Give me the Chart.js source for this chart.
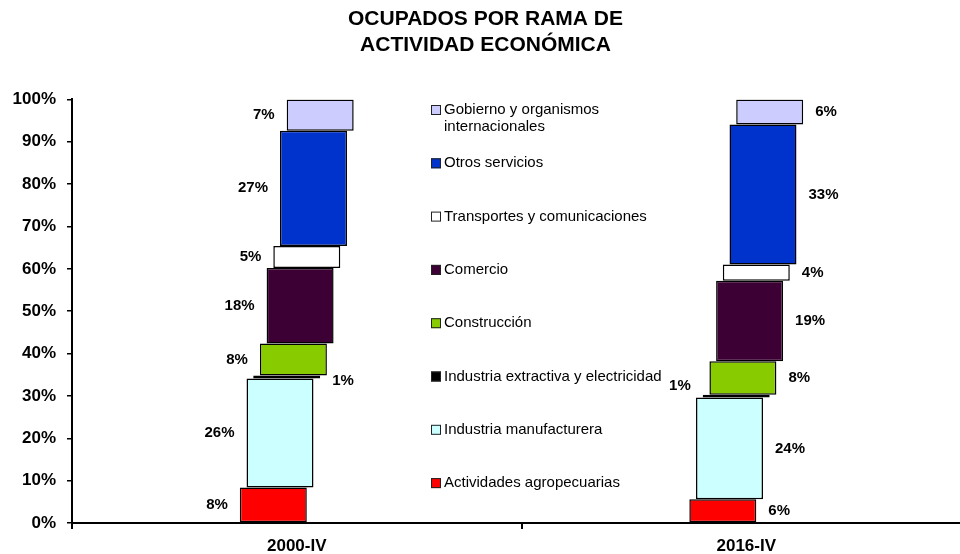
<!DOCTYPE html>
<html>
<head>
<meta charset="utf-8">
<script src="https://cdn.jsdelivr.net/npm/chart.js@4/dist/chart.umd.min.js"></script>
<style>
  body { margin: 0; background: #fff; }
  #wrap { width: 960px; height: 554px; overflow: hidden; }
</style>
</head>
<body>
<div id="wrap"><canvas id="ramas" width="994" height="554"></canvas></div>
<script>
// Ocupados por rama de actividad económica (% del total)
const periods = ['2000-IV', '2016-IV'];

const seriesNames = [
  'Actividades agropecuarias',
  'Industria manufacturera',
  'Industria extractiva y electricidad',
  'Construcción',
  'Comercio',
  'Transportes y comunicaciones',
  'Otros servicios',
  'Gobierno y organismos\ninternacionales'
];

const share2000 = [8.4, 25.7, 0.7, 7.6, 17.8, 5.2, 27.2, 7.4];
const share2016 = [5.6, 24.0, 0.7, 7.9, 19.0, 3.8, 33.1, 5.9];

const yTicks = [0, 10, 20, 30, 40, 50, 60, 70, 80, 90, 100];

const colors = ['#FF0000', '#CCFFFF', '#000000', '#88CC00', '#3D0035', '#FFFFFF', '#0033CC', '#CCCCFF'];

const FONT = "'Liberation Sans', Arial, sans-serif";

// each block floats from the running total up to running total + share
function floating(shares) {
  let acc = 0;
  return shares.map(v => {
    const seg = [acc, acc + v];
    acc += v;
    return seg;
  });
}
const blocks2000 = floating(share2000);
const blocks2016 = floating(share2016);

const datasets = seriesNames.map((name, i) => ({
  label: name,
  data: [blocks2000[i], blocks2016[i]],
  pct: [share2000[i], share2016[i]],
  backgroundColor: colors[i],
  borderColor: '#000',
  borderWidth: 1.5,
  borderSkipped: false
}));

// percentage labels beside every block
const blockLabels = {
  id: 'blockLabels',
  afterDatasetsDraw(chart, args, opts) {
    const ctx = chart.ctx;
    ctx.save();
    ctx.font = 'bold 15px ' + FONT;
    ctx.fillStyle = '#000';
    ctx.textBaseline = 'middle';
    chart.data.datasets.forEach((ds, i) => {
      const meta = chart.getDatasetMeta(i);
      meta.data.forEach((bar, j) => {
        const txt = Math.round(ds.pct[j]) + '%';
        let side = j === 0 ? 'left' : 'right';
        let dy = 0;
        if (i === opts.thinIndex) {
          side = side === 'left' ? 'right' : 'left';
          dy = opts.thinDy[j];
        }
        const cy = (bar.y + bar.base) / 2 + dy;
        if (side === 'left') {
          ctx.textAlign = 'right';
          ctx.fillText(txt, bar.x - bar.width / 2 - opts.gap, cy);
        } else {
          ctx.textAlign = 'left';
          ctx.fillText(txt, bar.x + bar.width / 2 + opts.gap, cy);
        }
      });
    });
    ctx.restore();
  }
};

// legend sitting between the two columns, top item first
const midLegend = {
  id: 'midLegend',
  afterDraw(chart, args, opts) {
    const ctx = chart.ctx;
    ctx.save();
    ctx.font = '15px ' + FONT;
    ctx.textBaseline = 'middle';
    ctx.textAlign = 'left';
    const items = chart.data.datasets.slice().reverse();
    items.forEach((ds, k) => {
      const y = opts.top + k * opts.step;
      ctx.fillStyle = ds.backgroundColor;
      ctx.fillRect(opts.x, y - 5, 10, 10);
      ctx.strokeStyle = '#222';
      ctx.lineWidth = 1;
      ctx.strokeRect(opts.x + 0.5, y - 4.5, 9, 9);
      ctx.fillStyle = '#000';
      ds.label.split('\n').forEach((line, n) => {
        ctx.fillText(line, opts.x + 13, y + n * 17);
      });
    });
    ctx.restore();
  }
};

new Chart(document.getElementById('ramas'), {
  type: 'bar',
  data: { labels: periods, datasets: datasets },
  plugins: [blockLabels, midLegend],
  options: {
    responsive: false,
    animation: false,
    categoryPercentage: 0.1192,
    barPercentage: 10,
    layout: { padding: { left: 0, right: 23, top: 0, bottom: 0 } },
    plugins: {
      legend: { display: false },
      tooltip: { enabled: false },
      title: {
        display: true,
        text: ['OCUPADOS POR RAMA DE', 'ACTIVIDAD ECONÓMICA'],
        color: '#000',
        font: { family: FONT, size: 21, weight: 'bold', lineHeight: 1.2 },
        padding: { top: 7, bottom: 42 }
      },
      blockLabels: { gap: 12, thinIndex: 2, thinDy: [4, -10] },
      midLegend: { x: 431, top: 110, step: 53.3 }
    },
    scales: {
      x: {
        afterFit: (s) => { s.height = 31; },
        grid: { display: true, drawOnChartArea: false, tickLength: 6, color: '#000', lineWidth: 2 },
        border: { color: '#000', width: 2 },
        ticks: { color: '#000', padding: 7, font: { family: FONT, size: 17, weight: 'bold' } }
      },
      y: {
        min: 0,
        max: 100,
        afterFit: (s) => { s.width = 72; },
        afterBuildTicks: (s) => { s.ticks = yTicks.map(v => ({ value: v })); },
        grid: { display: true, drawOnChartArea: false, tickLength: 5, color: '#000', lineWidth: 1.5 },
        border: { color: '#000', width: 2 },
        ticks: {
          color: '#000',
          padding: 11,
          font: { family: FONT, size: 17, weight: 'bold' },
          callback: (v) => v + '%'
        }
      }
    }
  }
});
</script>
</body>
</html>
